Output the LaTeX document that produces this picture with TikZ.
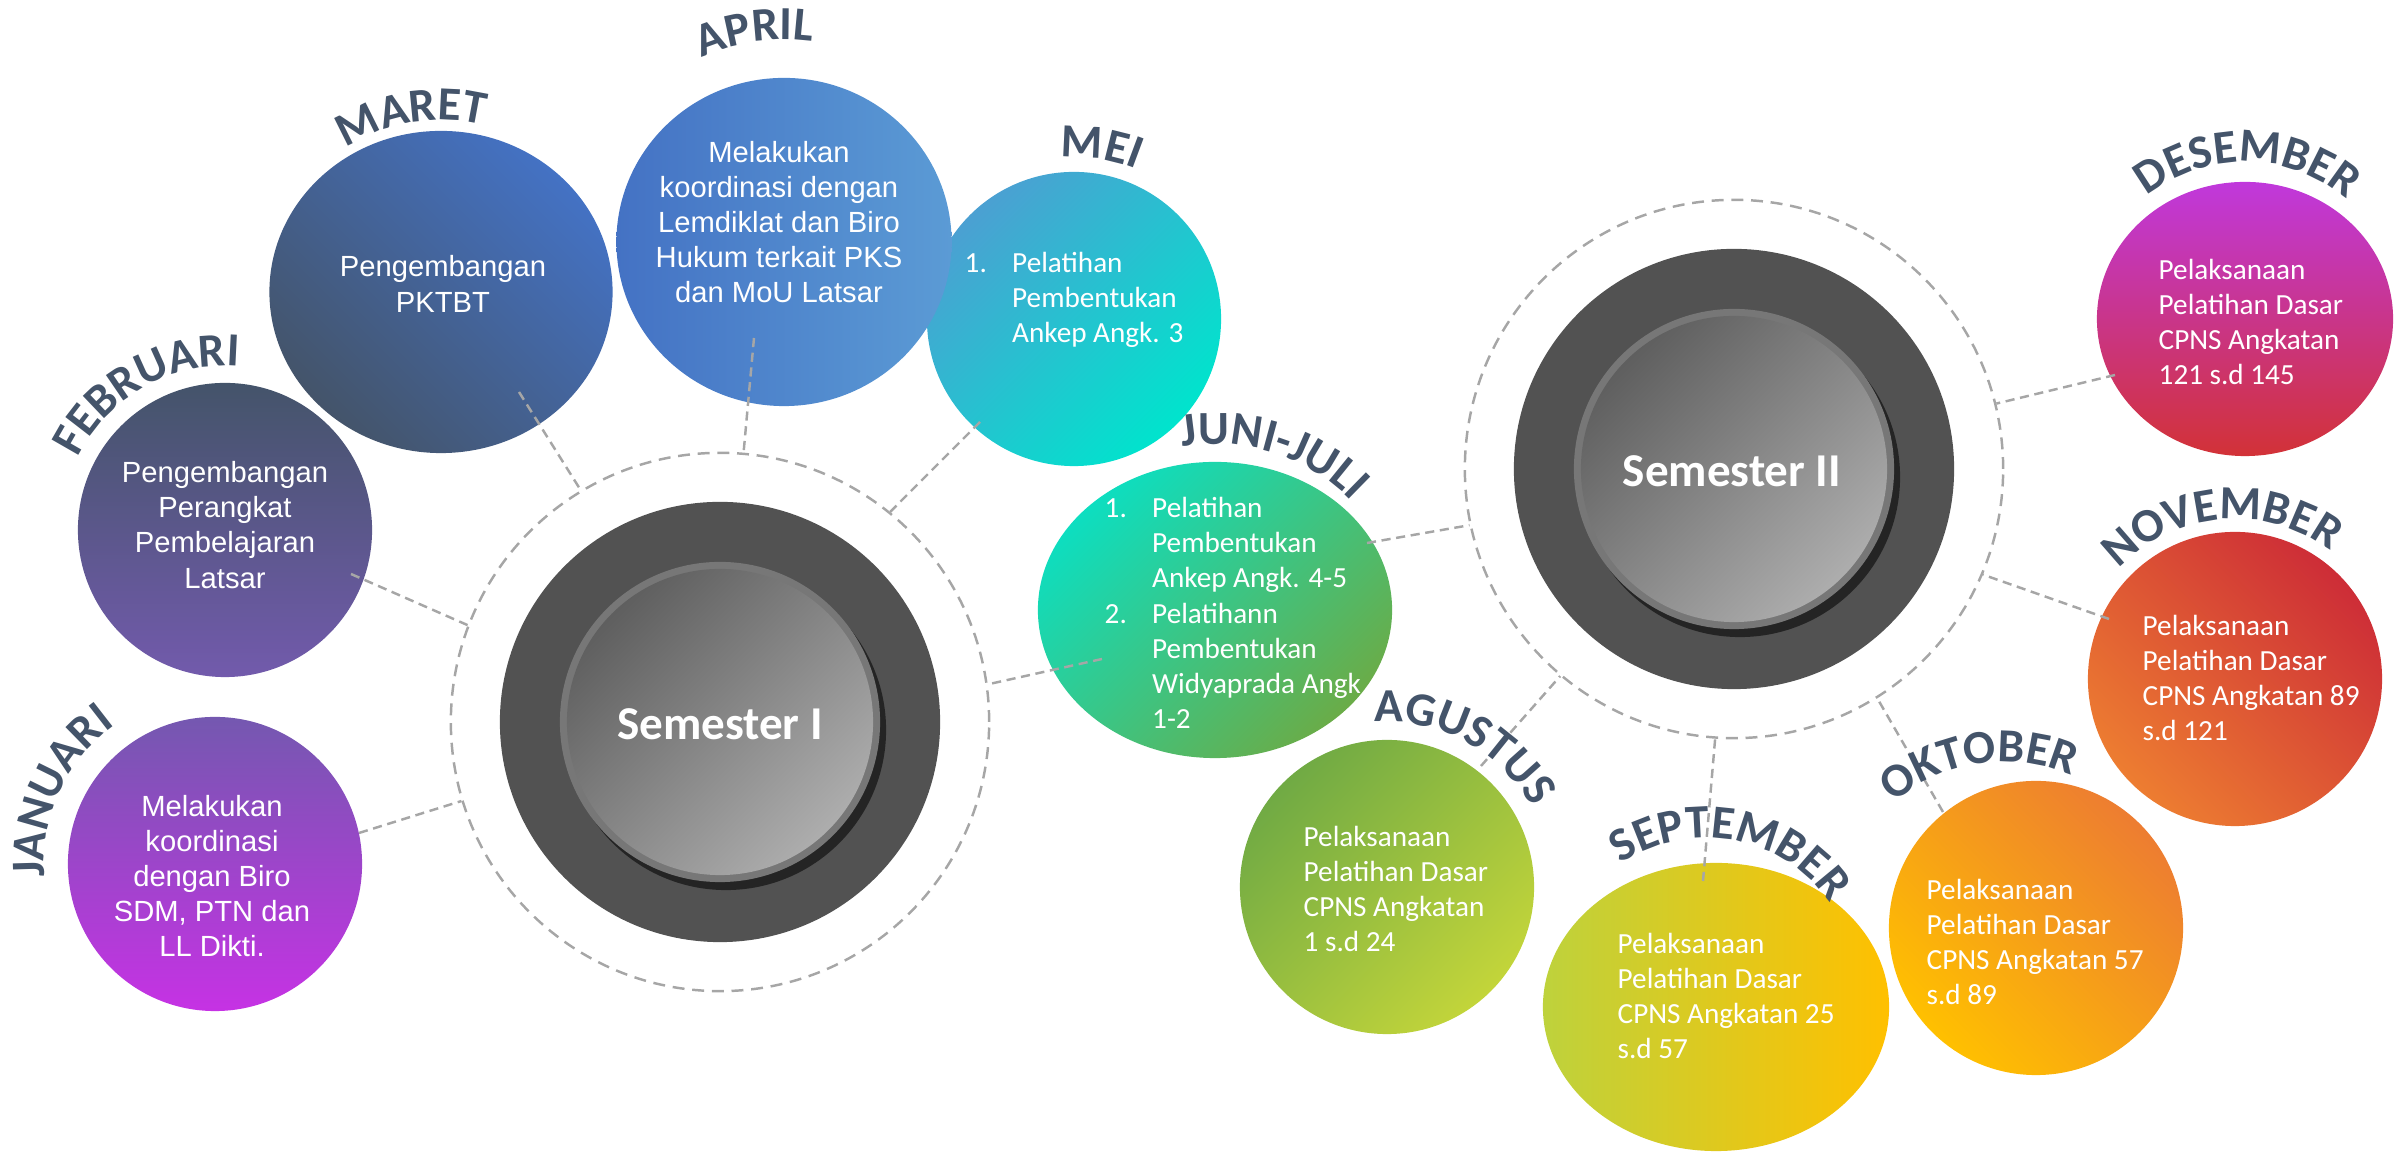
\documentclass[tikz,border=0pt]{standalone}
\usepackage{fontspec}
\setmainfont{Liberation Sans}
\newfontfamily\carlitofont{Carlito}
\usetikzlibrary{shapes.geometric,decorations.text,calc,shadows}

\definecolor{slate}{HTML}{44546A}
\definecolor{dashgray}{HTML}{A6A6A6}
\definecolor{semdark}{HTML}{525252}
\definecolor{rimgray}{HTML}{777777}
\definecolor{glasstop}{HTML}{5F5F5F}
\definecolor{glassbot}{HTML}{ADADAD}
\definecolor{janTop}{HTML}{7458B0}
\definecolor{janBot}{HTML}{C632E4}
\definecolor{febTop}{HTML}{44546A}
\definecolor{febBot}{HTML}{725AAC}
\definecolor{marTop}{HTML}{4472C4}
\definecolor{marBot}{HTML}{44546A}
\definecolor{aprL}{HTML}{4472C4}
\definecolor{aprR}{HTML}{5B9BD5}
\definecolor{meiTop}{HTML}{4BA0D2}
\definecolor{meiBot}{HTML}{00E4CD}
\definecolor{jjTop}{HTML}{0DDEC0}
\definecolor{jjBot}{HTML}{6AAC48}
\definecolor{aguTop}{HTML}{70AA44}
\definecolor{aguBot}{HTML}{C3D53A}
\definecolor{sepL}{HTML}{BED23C}
\definecolor{sepR}{HTML}{FFC000}
\definecolor{oktTop}{HTML}{ED7D31}
\definecolor{oktBot}{HTML}{FFC000}
\definecolor{novTop}{HTML}{CD2D37}
\definecolor{novBot}{HTML}{ED7D31}
\definecolor{desTop}{HTML}{C038DC}
\definecolor{desBot}{HTML}{D23237}

\newcommand\monthfont{\carlitofont\bfseries\fontsize{13.5}{16}\selectfont}
% #1,#2 centre; #3 baseline radius; #4,#5 angular extent of the word; #6 word
\newcommand\monthlabel[6]{%
  \begin{scope}\monthfont
  \path[decorate, decoration={text along path, text={|\monthfont|#6},
    text align=center, text color=slate}]
    ($(#1,#2)+({#4+25}:#3)$) arc[start angle={#4+25}, end angle={#5-25}, radius=#3];
  \end{scope}}

\tikzset{
  mcirc/.style={circle, inner sep=0pt, minimum size=2.94cm},
  mell/.style={ellipse, inner sep=0pt},
  ring/.style={circle, draw=dashgray, line width=0.7pt, dash pattern=on 3.4pt off 2.2pt, inner sep=0pt, minimum size=5.38cm},
  darkdisc/.style={circle, fill=semdark, inner sep=0pt, minimum size=4.4cm},
  rimdisc/.style={circle, fill=rimgray, inner sep=0pt, minimum size=3.2cm,
    drop shadow={shadow xshift=0.06cm, shadow yshift=-0.08cm, opacity=0.55, fill=black}},
  glassdisc/.style={circle, inner sep=0pt, minimum size=3.06cm, top color=glasstop, bottom color=glassbot, shading angle=45},
  semtext/.style={text=white, inner sep=0pt, font=\carlitofont\bfseries\fontsize{13.4}{16}\selectfont},
  ltext/.style={text=white, align=center, inner sep=0pt, font=\fontsize{8.3}{10}\selectfont},
  rtext/.style={text=white, align=left, inner sep=0pt, anchor=west, font=\carlitofont\fontsize{8.3}{10}\selectfont},
  conn/.style={draw=dashgray, line width=0.7pt, dash pattern=on 2.6pt off 1.6pt},
}

\begin{document}
\begin{tikzpicture}[x=0.01cm, y=0.01cm]
\useasboundingbox (0,0) rectangle (2408,1152);

% month circles
\node[mcirc, top color=janTop, bottom color=janBot] (janC) at (215,288) {};
\node[mcirc, top color=febTop, bottom color=febBot] (febC) at (225,622) {};
\node[mell, minimum width=3.43cm, minimum height=3.22cm, top color=marTop, bottom color=marBot, shading angle=-45] (marC) at (441,860) {};
\node[mcirc, top color=meiTop, bottom color=meiBot, shading angle=45] (meiC) at (1074,833) {};
\node[mell, minimum width=3.35cm, minimum height=3.28cm, left color=aprL, right color=aprR] (aprC) at (784,910) {};
\node[mell, minimum width=3.54cm, minimum height=2.96cm, top color=jjTop, bottom color=jjBot, shading angle=45] (jjC) at (1215,542) {};
\node[mcirc, top color=aguTop, bottom color=aguBot, shading angle=45] (aguC) at (1387,265) {};
\node[mell, minimum width=3.46cm, minimum height=2.88cm, left color=sepL, right color=sepR] (sepC) at (1716,145) {};
\node[mcirc, top color=oktTop, bottom color=oktBot, shading angle=-45] (oktC) at (2036,224) {};
\node[mcirc, top color=novTop, bottom color=novBot, shading angle=-45] (novC) at (2235,473) {};
\node[mell, minimum width=2.96cm, minimum height=2.74cm, top color=desTop, bottom color=desBot] (desC) at (2245,833) {};

% semester hubs
\node[ring] (ringI) at (720,430) {};
\node[darkdisc] (darkI) at (720,430) {};
\node[rimdisc] (rimI) at (720,430) {};
\node[glassdisc] (glassI) at (720,430) {};
\node[semtext] (semI) at (720,428) {Semester I};

\node[ring] (ringII) at (1734,683) {};
\node[darkdisc] (darkII) at (1734,683) {};
\node[rimdisc] (rimII) at (1734,683) {};
\node[glassdisc] (glassII) at (1734,683) {};
\node[semtext] (semII) at (1732,681) {Semester II};

% circle texts
\node[ltext] (janT) at (212,276) {Melakukan\\koordinasi\\dengan Biro\\SDM, PTN dan\\LL Dikti.};
\node[ltext] (febT) at (225,627) {Pengembangan\\Perangkat\\Pembelajaran\\Latsar};
\node[ltext] (marT) at (443,868) {Pengembangan\\PKTBT};
\node[ltext] (aprT) at (779,930) {Melakukan\\koordinasi dengan\\Lemdiklat dan Biro\\Hukum terkait PKS\\dan MoU Latsar};
\node[rtext] (meiT) at (964,852) {\makebox[4.75mm][l]{1.}Pelatihan\\\hspace*{4.75mm}Pembentukan\\\hspace*{4.75mm}Ankep Angk. 3};
\node[rtext] (jjT) at (1104,539) {\makebox[4.75mm][l]{1.}Pelatihan\\\hspace*{4.75mm}Pembentukan\\\hspace*{4.75mm}Ankep Angk. 4-5\\\makebox[4.75mm][l]{2.}Pelatihann\\\hspace*{4.75mm}Pembentukan\\\hspace*{4.75mm}Widyaprada Angk\\\hspace*{4.75mm}1-2};
\node[rtext] (aguT) at (1303,263) {Pelaksanaan\\Pelatihan Dasar\\CPNS Angkatan\\1 s.d 24};
\node[rtext] (sepT) at (1617,156) {Pelaksanaan\\Pelatihan Dasar\\CPNS Angkatan 25\\s.d 57};
\node[rtext] (oktT) at (1926,210) {Pelaksanaan\\Pelatihan Dasar\\CPNS Angkatan 57\\s.d 89};
\node[rtext] (novT) at (2142,474) {Pelaksanaan\\Pelatihan Dasar\\CPNS Angkatan 89\\s.d 121};
\node[rtext] (desT) at (2158,830) {Pelaksanaan\\Pelatihan Dasar\\CPNS Angkatan\\121 s.d 145};

% connector inner ends
\coordinate (janIn) at (359,319);
\coordinate (febIn) at (351,578);
\coordinate (marIn) at (519,760);
\coordinate (aprIn) at (754,814);
\coordinate (meiIn) at (980,730);
\coordinate (jjInA) at (1102,493);
\coordinate (jjInB) at (1367,609);
\coordinate (aguIn) at (1481,386);
\coordinate (sepIn) at (1703,271);
\coordinate (oktIn) at (1943,340);
\coordinate (novIn) at (2109,533);
\coordinate (desIn) at (2115,777);

\draw[conn] (janIn) -- (ringI.-163);
\draw[conn] (febIn) -- (ringI.159);
\draw[conn] (marIn) -- (ringI.121);
\draw[conn] (aprIn) -- (ringI.85);
\draw[conn] (meiIn) -- (ringI.51);
\draw[conn] (jjInA) -- (ringI.8);
\draw[conn] (jjInB) -- (ringII.-168);
\draw[conn] (aguIn) -- (ringII.-130);
\draw[conn] (sepIn) -- (ringII.-94);
\draw[conn] (oktIn) -- (ringII.-58);
\draw[conn] (novIn) -- (ringII.-23);
\draw[conn] (desIn) -- (ringII.14);

% month labels
\monthlabel{215}{288}{171}{183}{127}{JANUARI}
\monthlabel{225}{622}{164}{154}{85}{FEBRUARI}
\monthlabel{441}{860}{172}{123}{76}{MARET}
\monthlabel{784}{910}{202}{113}{83}{APRIL}
\monthlabel{1074}{833}{162}{95}{67}{MEI}
\begin{scope}\monthfont
\path[decorate, decoration={text along path, text={|\monthfont|JUNI-JULI},
    text align=center, text color=slate}]
    ($(1215,542)+(124:181 and 166)$) arc[start angle=124, end angle=16, x radius=181, y radius=166];
\end{scope}
\monthlabel{1387}{265}{165}{94}{29}{AGUSTUS}
\monthlabel{1706}{164}{150}{124}{35}{SEPTEMBER}
\monthlabel{2004}{221}{169}{129}{68}{OKTOBER}
\monthlabel{2235}{473}{160}{134}{56}{NOVEMBER}
\monthlabel{2245}{833}{157}{127}{51}{DESEMBER}
\end{tikzpicture}
\end{document}
